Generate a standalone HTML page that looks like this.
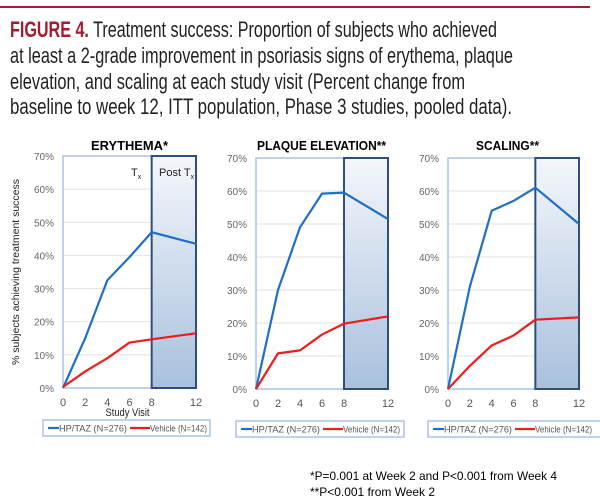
<!DOCTYPE html>
<html><head><meta charset="utf-8"><style>
body{margin:0;width:600px;height:503px;background:#fff;overflow:hidden;position:relative;font-family:"Liberation Sans",sans-serif}
</style></head><body>
<svg id="chart" width="600" height="503" style="position:absolute;left:0;top:0">
<defs><linearGradient id="g" x1="0" y1="0" x2="0" y2="1"><stop offset="0" stop-color="#f4f7fb"/><stop offset="1" stop-color="#a9c0dd"/></linearGradient></defs>
<rect x="0" y="6" width="590" height="2" fill="#a51c30"/>
<g font-size="22" fill="#231f20">
<text x="10" y="37" textLength="487" lengthAdjust="spacingAndGlyphs"><tspan fill="#a51c30" font-weight="bold">FIGURE 4.</tspan> Treatment success: Proportion of subjects who achieved</text>
<text x="10" y="63" textLength="503" lengthAdjust="spacingAndGlyphs">at least a 2-grade improvement in psoriasis signs of erythema, plaque</text>
<text x="10" y="89" textLength="455" lengthAdjust="spacingAndGlyphs">elevation, and scaling at each study visit (Percent change from</text>
<text x="10" y="114" textLength="502" lengthAdjust="spacingAndGlyphs">baseline to week 12, ITT population, Phase 3 studies, pooled data).</text>
</g>
<text x="310" y="480" font-size="12" textLength="247" lengthAdjust="spacingAndGlyphs">*P=0.001 at Week 2 and P&lt;0.001 from Week 4</text>
<text x="310" y="496" font-size="12" textLength="125" lengthAdjust="spacingAndGlyphs">**P&lt;0.001 from Week 2</text>
</svg>
<script>
const weeks=[0,2,4,6,8,12];
const yTicks=[0,10,20,30,40,50,60,70];
const panelTitles=["ERYTHEMA*","PLAQUE ELEVATION**","SCALING**"];
const hpErythema=[0,15,32.5,39.5,47,43.5];
const vehErythema=[0.3,5,9,13.7,14.7,16.5];
const hpPlaque=[0,30,49,59.2,59.5,51.5];
const vehPlaque=[0,10.8,11.7,16.5,19.8,22];
const hpScaling=[0,31,54,57,61,50];
const vehScaling=[0,7,13.2,16.2,21,21.7];
const legendLabels=["HP/TAZ (N=276)","Vehicle (N=142)"];

const svg=document.getElementById('chart');
const NS='http://www.w3.org/2000/svg';
function mk(tag,attrs,parent){const e=document.createElementNS(NS,tag);for(const k in attrs)e.setAttribute(k,attrs[k]);(parent||svg).appendChild(e);return e;}
const panels=[
 {x0:63,x1:196,top:156,bot:388,hp:hpErythema,veh:vehErythema,key:'erythema',leg:[43,420,167,16],tx:true,tw:77,tx0:91},
 {x0:256,x1:388,top:158,bot:389,hp:hpPlaque,veh:vehPlaque,key:'plaque',leg:[236,421,168,16],tw:129,tx0:257},
 {x0:448,x1:579,top:158,bot:389,hp:hpScaling,veh:vehScaling,key:'scaling',leg:[428,421,180,16],tw:63,tx0:476}
];
panels.forEach((p,i)=>{
 const g=mk('g',{});
 
 
 const X=w=>p.x0+(w-weeks[0])/(weeks[weeks.length-1]-weeks[0])*(p.x1-p.x0);
 const Y=v=>p.bot-v/70*(p.bot-p.top);
 yTicks.forEach(t=>{
  if(t>0){const l=mk('line',{x1:p.x0,x2:p.x1,y1:Y(t),y2:Y(t),stroke:'#e2e2e2','stroke-width':1},g);
   }
  const tx=mk('text',{x:p.x0-9,y:Y(t)+4,'text-anchor':'end','font-size':10,fill:'#666'},g);
  tx.textContent=t+'%';
  
 });
 const fr=mk('rect',{x:p.x0,y:p.top,width:p.x1-p.x0,height:p.bot-p.top,fill:'none',stroke:'#a9c4e4','stroke-width':1.5},g);
 
 const bx=mk('rect',{x:X(8),y:p.top,width:X(12)-X(8),height:p.bot-p.top,fill:'url(#g)',stroke:'#2f4f7a','stroke-width':2},g);
 
 weeks.forEach(w=>{
  const t=mk('text',{x:X(w),y:p.bot+18,'text-anchor':'middle','font-size':11,fill:'#555'},g);
  t.textContent=w;
  
 });
 [[p.hp,'#1f6fc5','hp-taz-line'],[p.veh,'#ee1c1c','vehicle-line']].forEach(([arr,c,n])=>{
  const pl=mk('polyline',{points:arr.map((v,j)=>X(weeks[j])+','+Y(v)).join(' '),fill:'none',stroke:c,'stroke-width':2.2,'stroke-linejoin':'round'},g);
  
 });
 const tt=mk('text',{x:p.tx0,y:150,'font-size':12.5,'font-weight':'bold',fill:'#000',textLength:p.tw,lengthAdjust:'spacingAndGlyphs'},g);
 tt.textContent=panelTitles[i];
 
 const [lx,ly,lw,lh]=p.leg;
 const lg=mk('g',{},g);
 
 mk('rect',{x:lx,y:ly,width:lw,height:lh,fill:'#fff',stroke:'#a9c4e4','stroke-width':1.5},lg);
 mk('line',{x1:lx+5,x2:lx+16,y1:ly+lh/2,y2:ly+lh/2,stroke:'#1f6fc5','stroke-width':2.2},lg);
 const t1=mk('text',{x:lx+16,y:ly+lh/2+3.5,'font-size':9.5,fill:'#555',textLength:68,lengthAdjust:'spacingAndGlyphs'},lg);t1.textContent=legendLabels[0];
 
 mk('line',{x1:lx+87,x2:lx+107,y1:ly+lh/2,y2:ly+lh/2,stroke:'#ee1c1c','stroke-width':2.2},lg);
 const t2=mk('text',{x:lx+107,y:ly+lh/2+3.5,'font-size':9.5,fill:'#555',textLength:57,lengthAdjust:'spacingAndGlyphs'},lg);t2.textContent=legendLabels[1];
 
 if(p.tx){
  const a=mk('text',{x:131,y:176,'font-size':11,fill:'#222'},g);a.innerHTML='T<tspan font-size="7" dy="3">x</tspan>';
  
  const b=mk('text',{x:159,y:176,'font-size':11,fill:'#222'},g);b.innerHTML='Post T<tspan font-size="7" dy="3">x</tspan>';
  
  const sv=mk('text',{x:(p.x0+p.x1)/2-2,y:416,'text-anchor':'middle','font-size':11,fill:'#222',textLength:44,lengthAdjust:'spacingAndGlyphs'},g);sv.textContent='Study Visit';
  
  const ya=mk('text',{x:0,y:0,'text-anchor':'middle','font-size':10.5,fill:'#222',transform:'translate(19,272) rotate(-90)',textLength:186,lengthAdjust:'spacingAndGlyphs'},g);ya.textContent='% subjects achieving treatment success';
  
 }
});
</script>
</body></html>
